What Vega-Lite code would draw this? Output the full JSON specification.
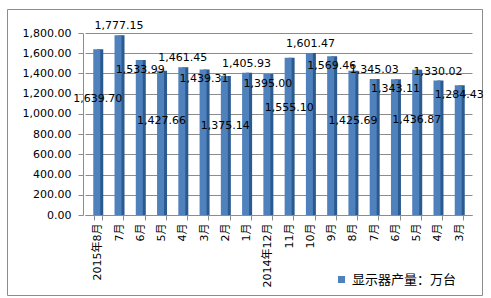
{
  "$schema": "https://vega.github.io/schema/vega-lite/v6.json",
  "width": 475,
  "height": 286,
  "autosize": {"type": "none"},
  "padding": {"left": 7, "top": 9, "right": 9, "bottom": 3},
  "background": "white",
  "config": {
    "view": {"stroke": "#8C8C8C", "strokeWidth": 1},
    "font": "DejaVu Sans, Noto Sans CJK SC",
    "text": {"font": "DejaVu Sans, Noto Sans CJK SC"}
  },
  "data": {
    "values": [
      {"month": "2015-08", "value": 1639.70},
      {"month": "2015-07", "value": 1777.15},
      {"month": "2015-06", "value": 1533.99},
      {"month": "2015-05", "value": 1427.66},
      {"month": "2015-04", "value": 1461.45},
      {"month": "2015-03", "value": 1439.31},
      {"month": "2015-02", "value": 1375.14},
      {"month": "2015-01", "value": 1405.93},
      {"month": "2014-12", "value": 1395.00},
      {"month": "2014-11", "value": 1555.10},
      {"month": "2014-10", "value": 1601.47},
      {"month": "2014-09", "value": 1569.46},
      {"month": "2014-08", "value": 1425.69},
      {"month": "2014-07", "value": 1345.03},
      {"month": "2014-06", "value": 1343.11},
      {"month": "2014-05", "value": 1436.87},
      {"month": "2014-04", "value": 1330.02},
      {"month": "2014-03", "value": 1284.43}
    ]
  },
  "encoding": {
    "x": {
      "field": "month",
      "type": "ordinal",
      "sort": "descending",
      "scale": {"range": [78, 465], "paddingInner": 0.6, "paddingOuter": 0.4},
      "axis": {
        "title": null,
        "labelAngle": -90,
        "offset": -80,
        "labelExpr": "!datum.value ? '' : ((split(datum.value,'-')[1] == '12' || datum.value == '2015-08') ? split(datum.value,'-')[0] + '年' + toNumber(split(datum.value,'-')[1]) + '月' : toNumber(split(datum.value,'-')[1]) + '月')",
        "domainColor": "#8C8C8C",
        "tickColor": "#8C8C8C",
        "tickSize": 5,
        "tickBand": "extent",
        "labelPadding": 3,
        "labelFontSize": 11,
        "labelColor": "#000000",
        "labelFont": "DejaVu Sans, Noto Sans CJK SC"
      }
    },
    "y": {
      "field": "value",
      "type": "quantitative",
      "scale": {"domain": [0, 1800], "range": [206, 24], "nice": false, "zero": true},
      "axis": {
        "title": null,
        "offset": -76,
        "values": [0, 200, 400, 600, 800, 1000, 1200, 1400, 1600, 1800],
        "format": ",.2f",
        "grid": true,
        "gridColor": "#8C8C8C",
        "domainColor": "#8C8C8C",
        "tickColor": "#8C8C8C",
        "tickSize": 5,
        "labelPadding": 7,
        "labelFontSize": 11,
        "labelColor": "#000000",
        "labelFont": "DejaVu Sans"
      }
    }
  },
  "layer": [
    {
      "mark": {"type": "bar", "size": 6, "xOffset": 2.5, "color": "#2B5A8F"}
    },
    {
      "mark": {"type": "bar", "size": 7, "xOffset": -1},
      "encoding": {
        "color": {
          "datum": "显示器产量：万台",
          "type": "nominal",
          "scale": {"range": ["#4F81BD"]},
          "legend": {
            "title": null,
            "orient": "none",
            "legendX": 328,
            "legendY": 264,
            "symbolType": "square",
            "symbolSize": 50,
            "labelFontSize": 13,
            "labelFont": "Noto Sans CJK SC",
            "labelColor": "#000000",
            "padding": 0,
            "labelOffset": 4
          }
        }
      }
    },
    {
      "transform": [
        {"window": [{"op": "row_number", "as": "idx"}]},
        {"filter": "datum.idx % 3 == 2"}
      ],
      "mark": {"type": "text", "baseline": "bottom", "dy": -4, "fontSize": 11, "color": "#000000"},
      "encoding": {"text": {"field": "value", "type": "quantitative", "format": ",.2f"}}
    },
    {
      "transform": [
        {"window": [{"op": "row_number", "as": "idx"}]},
        {"filter": "datum.idx % 3 == 0"}
      ],
      "mark": {"type": "text", "baseline": "top", "dy": 4, "fontSize": 11, "color": "#000000"},
      "encoding": {"text": {"field": "value", "type": "quantitative", "format": ",.2f"}}
    },
    {
      "transform": [
        {"window": [{"op": "row_number", "as": "idx"}]},
        {"filter": "datum.idx % 3 == 1"}
      ],
      "mark": {"type": "text", "baseline": "middle", "dy": 50, "fontSize": 11, "color": "#000000"},
      "encoding": {"text": {"field": "value", "type": "quantitative", "format": ",.2f"}}
    }
  ]
}
